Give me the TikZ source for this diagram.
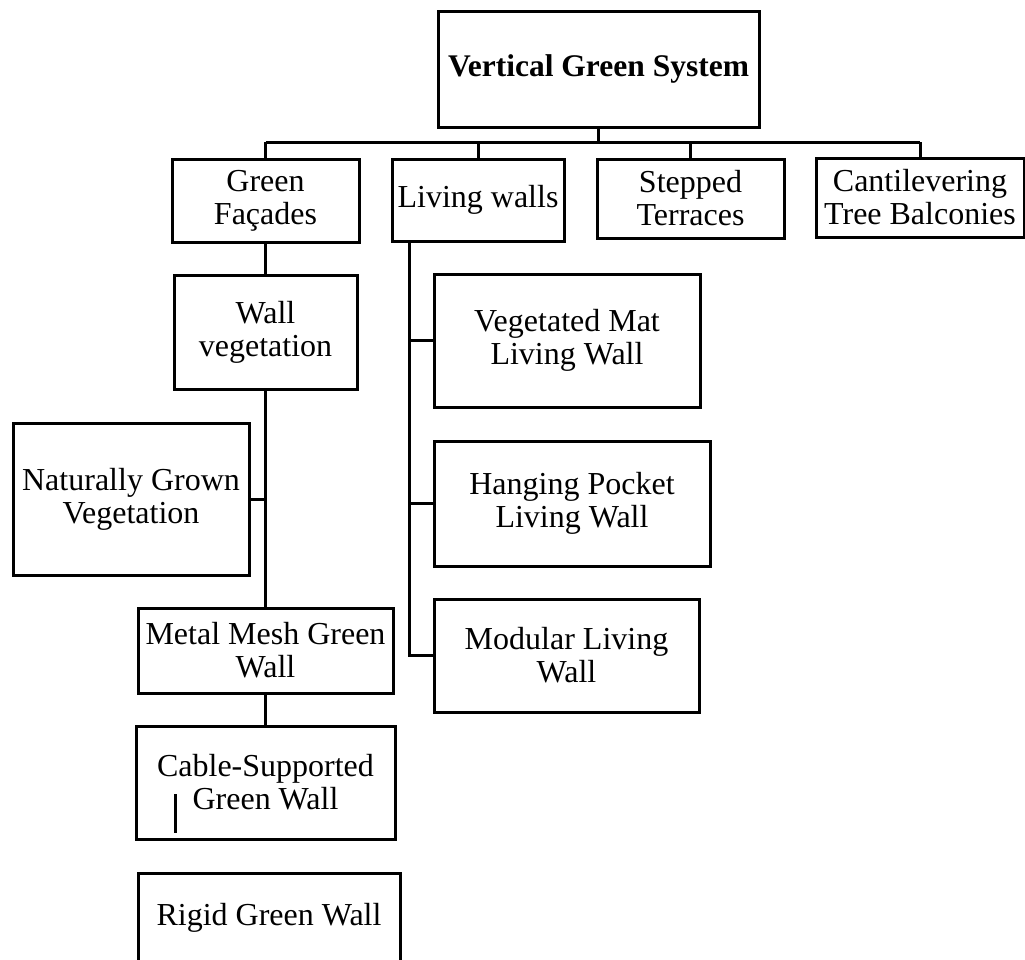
\documentclass[tikz,border=0pt]{standalone}
\usepackage{fontspec}
\setmainfont{Liberation Serif}
\begin{document}
\begin{tikzpicture}[x=1pt,y=-1pt,
  box/.style={draw, line width=3pt, align=center, inner sep=0pt,
    font=\fontsize{32}{33}\selectfont},
  conn/.style={line width=3pt}]
\useasboundingbox (0,0) rectangle (1025,959);
\clip (0,0) rectangle (1025,959);
\node[box, minimum width=321pt, minimum height=116pt, font=\fontsize{31.5}{33}\selectfont\bfseries] (top) at (598.5,69) {Vertical Green System};
\node[box, minimum width=187pt, minimum height=83pt] (gf) at (265.5,200.5) {Green\\Façades};
\node[box, minimum width=172pt, minimum height=82pt] (lw) at (478,200) {Living walls};
\node[box, minimum width=187pt, minimum height=79pt] (st) at (690.5,198.5) {Stepped\\Terraces};
\node[box, minimum width=208pt, minimum height=79pt] (cb) at (920,197.5) {Cantilevering\\Tree Balconies};
\node[box, minimum width=183pt, minimum height=114pt] (wv) at (265.5,332) {Wall\\vegetation};
\node[box, minimum width=236pt, minimum height=152pt] (ng) at (131,499) {Naturally Grown\\Vegetation};
\node[box, minimum width=255pt, minimum height=85pt] (mm) at (265.5,650.5) {Metal Mesh Green\\Wall};
\node[box, minimum width=259pt, minimum height=113pt] (cs) at (265.5,782.5) {Cable-Supported\\Green Wall};
\node[box, minimum width=262pt, minimum height=90pt] (rg) at (269,918) {Rigid Green Wall};
\node[box, minimum width=266pt, minimum height=133pt] (vm) at (567,340.5) {Vegetated Mat\\Living Wall};
\node[box, minimum width=276pt, minimum height=125pt] (hp) at (572,503.5) {Hanging Pocket\\Living Wall};
\node[box, minimum width=265pt, minimum height=113pt] (ml) at (566.5,655.5) {Modular Living\\Wall};
% bus
\coordinate (bus) at (0,142);
\draw[conn] (top.south) -- (top.south |- bus);
\draw[conn] (gf.north |- bus) -- (cb.north |- bus);
\draw[conn] (gf.north |- bus) -- (gf.north);
\draw[conn] (lw.north |- bus) -- (lw.north);
\draw[conn] (st.north |- bus) -- (st.north);
\draw[conn] (cb.north |- bus) -- (cb.north);
% green facades branch
\draw[conn] (gf.south) -- (wv.north);
\draw[conn] (wv.south) -- (mm.north);
\draw[conn] (ng.east) -- (ng.east -| wv.south);
\draw[conn] (mm.south) -- (cs.north);
\coordinate (s1) at (175,794);
\coordinate (s2) at (175,833);
\draw[conn] (s1) -- (s2);
% living walls branch
\coordinate (t0) at (409,241);
\draw[conn] (t0) |- (ml.west);
\draw[conn] (vm.west -| t0) -- (vm.west);
\draw[conn] (hp.west -| t0) -- (hp.west);
\end{tikzpicture}
\end{document}
